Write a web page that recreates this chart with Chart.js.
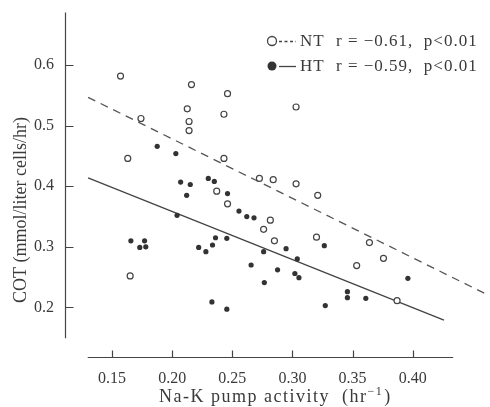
<!DOCTYPE html>
<html><head><meta charset="utf-8">
<script src="https://cdn.jsdelivr.net/npm/chart.js@4.4.0/dist/chart.umd.min.js"></script>
<style>html,body{margin:0;padding:0;background:#fff;} canvas{display:block;}</style>
</head><body>
<canvas id="c" width="490" height="407"></canvas>
<script>
// ---- data ----
const X_TICKS = [0.15, 0.20, 0.25, 0.30, 0.35, 0.40];
const Y_TICKS = [0.2, 0.3, 0.4, 0.5, 0.6];

const NT_X = [0.157, 0.163, 0.165, 0.174, 0.2125, 0.214, 0.214, 0.216, 0.237, 0.243, 0.243, 0.246, 0.246,
              0.2725, 0.276, 0.2816, 0.284, 0.285, 0.303, 0.303, 0.320, 0.321, 0.3534, 0.364, 0.3757, 0.387];
const NT_Y = [0.582, 0.446, 0.252, 0.512, 0.528, 0.507, 0.492, 0.568, 0.392, 0.519, 0.446, 0.553, 0.371,
              0.413, 0.329, 0.344, 0.411, 0.310, 0.531, 0.404, 0.316, 0.385, 0.269, 0.307, 0.281, 0.211];

const HT_X = [0.1656, 0.173, 0.177, 0.178, 0.1875, 0.203, 0.204, 0.207, 0.212, 0.215, 0.222, 0.228, 0.230,
              0.233, 0.2335, 0.235, 0.236, 0.2454, 0.2454, 0.246, 0.2555, 0.262, 0.2656, 0.268, 0.276, 0.2766,
              0.2876, 0.2947, 0.302, 0.304, 0.3054, 0.3265, 0.3273, 0.3457, 0.3457, 0.361, 0.396];
const HT_Y = [0.310, 0.299, 0.310, 0.300, 0.466, 0.454, 0.352, 0.407, 0.385, 0.403, 0.299, 0.292, 0.413,
              0.209, 0.303, 0.408, 0.315, 0.314, 0.197, 0.388, 0.359, 0.350, 0.270, 0.348, 0.292, 0.241,
              0.262, 0.297, 0.256, 0.280, 0.249, 0.302, 0.203, 0.226, 0.216, 0.215, 0.248];

const NT_FIT_X = [0.13, 0.46];
const NT_FIT_Y = [0.547, 0.223];
const HT_FIT_X = [0.13, 0.426];
const HT_FIT_Y = [0.414, 0.179];

const SERIES_NAMES = ['NT', 'HT'];
const SERIES_STATS = ['r = \u22120.61,  p<0.01', 'r = \u22120.59,  p<0.01'];
const X_TITLE = 'Na-K pump activity';
const Y_TITLE = 'COT (mmol/liter cells/hr)';

// ---- layout / style ----
const X_RANGE = [0.11081, 0.45997];
const Y_RANGE = [0.11639, 0.68689];
const X_AXIS_SPAN = [0.1297, 0.4337];
const Y_AXIS_SPAN = [0.149, 0.6869];
const INK = '#3a3a3a';
const SERIF = '"Liberation Serif", "DejaVu Serif", serif';

const pts = (xs, ys) => xs.map((x, i) => ({x: x, y: ys[i]}));

const decor = {
  id: 'decor',
  afterDraw(chart) {
    const ctx = chart.ctx, xs = chart.scales.x, ys = chart.scales.y, ca = chart.chartArea;
    ctx.save();
    ctx.strokeStyle = '#444';
    ctx.lineWidth = 1.2;
    const ax = ca.left + 0.5;
    // y axis
    ctx.beginPath();
    ctx.moveTo(ax, ys.getPixelForValue(Y_AXIS_SPAN[1]));
    ctx.lineTo(ax, ys.getPixelForValue(Y_AXIS_SPAN[0]));
    Y_TICKS.forEach(v => {
      const p = Math.round(ys.getPixelForValue(v)) + 0.5;
      ctx.moveTo(ax, p); ctx.lineTo(ax + 8, p);
    });
    // x axis
    const by = ca.bottom - 0.5;
    ctx.moveTo(xs.getPixelForValue(X_AXIS_SPAN[0]), by);
    ctx.lineTo(xs.getPixelForValue(X_AXIS_SPAN[1]), by);
    X_TICKS.forEach(v => {
      const p = Math.round(xs.getPixelForValue(v)) + 0.5;
      ctx.moveTo(p, by); ctx.lineTo(p, by - 7);
    });
    ctx.stroke();

    ctx.fillStyle = INK;
    // x title with superscript
    ctx.letterSpacing = '1.5px';
    ctx.textBaseline = 'alphabetic';
    const t1 = X_TITLE + '  (hr', sup = '\u22121', t2 = ')';
    ctx.font = '18px ' + SERIF; const w1 = ctx.measureText(t1).width;
    ctx.font = '12px ' + SERIF; const ws = ctx.measureText(sup).width;
    ctx.font = '18px ' + SERIF; const w2 = ctx.measureText(t2).width;
    const cx = (ca.left + ca.right) / 2;
    let sx = cx - (w1 + ws + w2) / 2;
    const base = 402;
    ctx.textAlign = 'left';
    ctx.fillText(t1, sx, base);
    ctx.font = '12px ' + SERIF; ctx.fillText(sup, sx + w1, base - 7);
    ctx.font = '18px ' + SERIF; ctx.fillText(t2, sx + w1 + ws + 1, base);

    // y title
    ctx.letterSpacing = '0px';
    ctx.save();
    ctx.translate(26, 210);
    ctx.rotate(-Math.PI / 2);
    ctx.textAlign = 'center';
    ctx.textBaseline = 'alphabetic';
    ctx.font = '18px ' + SERIF;
    ctx.fillText(Y_TITLE, 0, 0);
    ctx.restore();

    // legend
    const rows = [41, 66];
    rows.forEach((ry, i) => {
      ctx.lineWidth = 1.3;
      ctx.strokeStyle = '#444';
      ctx.beginPath();
      ctx.arc(272, ry, 4.5, 0, Math.PI * 2);
      if (i === 0) { ctx.fillStyle = '#fff'; ctx.fill(); ctx.stroke(); }
      else { ctx.fillStyle = '#333'; ctx.fill(); }
      ctx.beginPath();
      ctx.setLineDash(i === 0 ? [3, 2.5] : []);
      ctx.moveTo(279, ry + 0.5); ctx.lineTo(296, ry + 0.5);
      ctx.stroke();
      ctx.setLineDash([]);
      ctx.fillStyle = INK;
      ctx.font = '17px ' + SERIF;
      ctx.letterSpacing = '1px';
      ctx.textAlign = 'left';
      ctx.textBaseline = 'middle';
      ctx.fillText(SERIES_NAMES[i], 300, ry + 1);
      ctx.fillText(SERIES_STATS[i], 336, ry + 1);
      ctx.letterSpacing = '0px';
    });
    ctx.restore();
  }
};

new Chart(document.getElementById('c'), {
  data: {
    datasets: [
      { type: 'line', label: 'NT fit', data: pts(NT_FIT_X, NT_FIT_Y), borderColor: '#555', borderWidth: 1.3,
        borderDash: [8, 6], pointRadius: 0, fill: false, order: 3 },
      { type: 'line', label: 'HT fit', data: pts(HT_FIT_X, HT_FIT_Y), borderColor: '#444', borderWidth: 1.3,
        pointRadius: 0, fill: false, order: 4 },
      { type: 'scatter', label: 'NT', data: pts(NT_X, NT_Y), pointStyle: 'circle', pointRadius: 3,
        pointBorderWidth: 1.2, borderColor: '#444', backgroundColor: '#fff', order: 1 },
      { type: 'scatter', label: 'HT', data: pts(HT_X, HT_Y), pointStyle: 'circle', pointRadius: 2.6,
        pointBorderWidth: 0, borderColor: '#333', backgroundColor: '#333', order: 2 }
    ]
  },
  options: {
    responsive: false,
    animation: false,
    devicePixelRatio: 1,
    layout: { padding: { top: 10, right: 0, left: 0, bottom: 0 } },
    plugins: { legend: { display: false }, tooltip: { enabled: false } },
    scales: {
      x: {
        type: 'linear', min: X_RANGE[0], max: X_RANGE[1],
        grid: { display: false }, border: { display: false },
        afterBuildTicks: s => { s.ticks = X_TICKS.map(v => ({value: v})); },
        afterFit: s => { s.height = 49; },
        ticks: { padding: 3, color: INK, font: { family: SERIF, size: 16 }, maxRotation: 0,
                 callback: v => v.toFixed(2) }
      },
      y: {
        type: 'linear', min: Y_RANGE[0], max: Y_RANGE[1],
        grid: { display: false }, border: { display: false },
        afterBuildTicks: s => { s.ticks = Y_TICKS.map(v => ({value: v})); },
        afterFit: s => { s.width = 65; },
        ticks: { padding: 3, color: INK, font: { family: SERIF, size: 16 },
                 callback: v => v.toFixed(1) }
      }
    }
  },
  plugins: [decor]
});
</script>
</body></html>
